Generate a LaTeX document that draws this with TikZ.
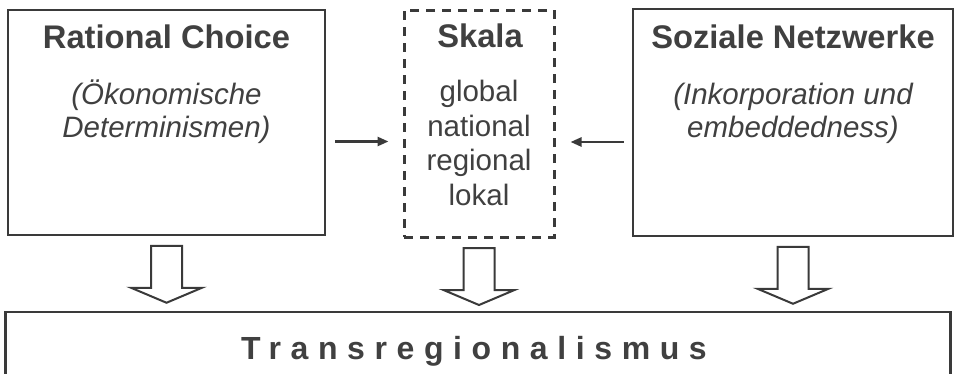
\documentclass[tikz,border=0pt]{standalone}
\usepackage{fontspec}
\setmainfont{Liberation Sans}
\newfontfamily\spacedfont[LetterSpace=30]{Liberation Sans}
\usetikzlibrary{arrows.meta}

\begin{document}
\begin{tikzpicture}[x=1pt, y=-1pt]
    % Define custom colors
    \definecolor{inkgray}{HTML}{3A3A3A}
    \definecolor{textgray}{HTML}{404040}

    \tikzset{
        box/.style={draw=inkgray, line width=2.5pt, inner sep=0pt},
        dashbox/.style={box, line width=3pt, dash pattern=on 9pt off 7pt},
        titletext/.style={anchor=base, text=textgray, font=\fontsize{32.7}{34}\selectfont\bfseries},
        bodytext/.style={anchor=base, text=textgray, align=center, font=\fontsize{29.5}{33}\selectfont\itshape},
        smallarrow/.style={draw=inkgray, line width=2.5pt, -{Triangle[length=11pt,width=9pt]}},
        hollowarrow/.style={draw=inkgray, line width=2pt, fill=white, line join=miter}
    }

    \clip (0,0) rectangle (957,373);

    % Boxes
    \node[box, minimum width=317pt, minimum height=225pt] (rc) at (166.5,122.5) {};
    \node[dashbox, minimum width=150pt, minimum height=227pt] (sk) at (479,123.5) {};
    \node[box, minimum width=320pt, minimum height=227pt] (sn) at (793,122.5) {};
    \node[box, minimum width=945pt, minimum height=90pt] (tr) at (478,357) {};

    % Labels in the boxes (base = last line)
    \node[titletext] (rct) at (166.5,48) {Rational Choice};
    \node[bodytext] (rcb) at (166.5,137) {(Ökonomische\\Determinismen)};

    \node[titletext] (skt) at (480,47) {Skala};
    \node[bodytext, font=\fontsize{29.5}{34.4}\selectfont] (skb) at (479,205) {global\\national\\regional\\lokal};

    \node[titletext] (snt) at (793,48) {Soziale Netzwerke};
    \node[bodytext] (snb) at (793,137) {(Inkorporation und\\embeddedness)};

    \node[anchor=base, text=textgray, font=\fontsize{32}{34}\spacedfont\bfseries] (trt) at (474,359) {Transregionalismus};

    % Small arrows into the scale box
    \draw[smallarrow, shorten <=9pt, shorten >=14pt]
        ([yshift=-19pt]rc.east) -- ([yshift=-19pt]rc.east -| sk.west);
    \draw[smallarrow, shorten <=8pt, shorten >=15pt]
        ([yshift=-19.5pt]sn.west) -- ([yshift=-19.5pt]sn.west -| sk.east);

    % Hollow arrows down to the bottom box
    \foreach \n in {rc,sk,sn} {
        \draw[hollowarrow] ([xshift=-15.5pt,yshift=-9.5pt]\n.south) -- ++(0,42) -- ++(-20,0)
            -- ++(35.5,15) -- ++(35.5,-15) -- ++(-20,0) -- ++(0,-42) -- cycle;
    }

\end{tikzpicture}
\end{document}
